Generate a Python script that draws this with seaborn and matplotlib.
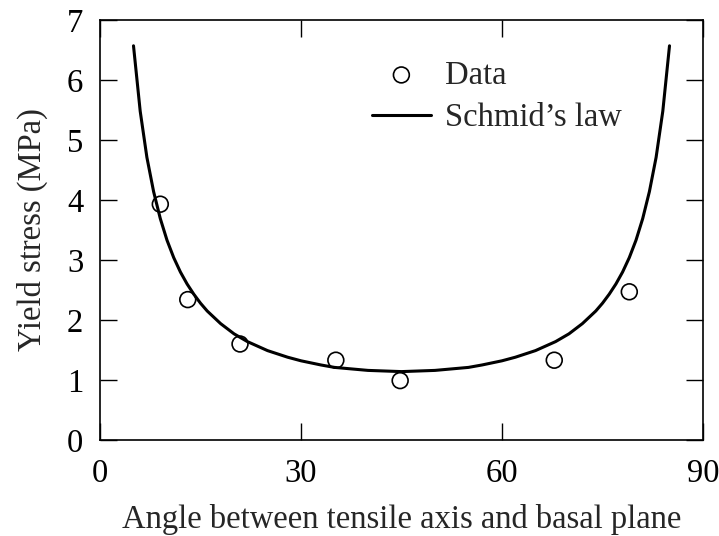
import matplotlib
matplotlib.use("Agg")
import matplotlib.pyplot as plt
import seaborn as sns
import pandas as pd

# Measured data points (angle in degrees, yield stress in MPa)
data_angle = [9.0, 13.1, 20.9, 35.2, 44.8, 67.8, 79.0]
data_stress = [3.93, 2.34, 1.60, 1.33, 0.99, 1.33, 2.47]

# Schmid's law curve
curve_angle = [5, 6, 7, 8, 9, 10, 11, 12, 13, 14, 15, 16, 18, 20, 22, 25, 28, 30, 33, 35, 40, 45,
               50, 55, 57, 60, 62, 65, 68, 70, 72, 74, 75, 76, 77, 78, 79, 80, 81, 82, 83, 84, 85]
curve_stress = [6.57, 5.48, 4.71, 4.14, 3.69, 3.33, 3.04, 2.80, 2.60, 2.43, 2.28, 2.15, 1.94,
                1.77, 1.64, 1.49, 1.38, 1.32, 1.25, 1.21, 1.16, 1.14, 1.16, 1.21, 1.25,
                1.32, 1.38, 1.49, 1.64, 1.77, 1.94, 2.15, 2.28, 2.43, 2.60, 2.80, 3.04,
                3.33, 3.69, 4.14, 4.71, 5.48, 6.57]

x_ticks = [0, 30, 60, 90]
y_ticks = [0, 1, 2, 3, 4, 5, 6, 7]

sns.set_style("ticks")
plt.rcParams['font.family'] = ['Liberation Serif', 'DejaVu Serif']

fig = plt.figure(figsize=(7.19, 5.36), dpi=100)
ax = fig.add_axes([100/719, 1-440/536, (703-100)/719, (440-20)/536])

df_data = pd.DataFrame({"angle": data_angle, "stress": data_stress})
df_curve = pd.DataFrame({"angle": curve_angle, "stress": curve_stress})

sns.scatterplot(data=df_data, x="angle", y="stress", ax=ax, marker="o", s=130,
                facecolor="none", edgecolor="black", linewidth=1.2, label="Data", zorder=3)
sns.lineplot(data=df_curve, x="angle", y="stress", ax=ax, color="black",
             linewidth=2.2, label="Schmid\u2019s law", zorder=2)

ax.set_xlim(0, 90)
ax.set_ylim(0, 7)
ax.set_xticks(x_ticks)
ax.set_yticks(y_ticks)
ax.tick_params(direction="in", length=12, width=1.0, labelsize=23.5, pad=12,
               top=True, right=True, colors="black")
ax.tick_params(axis="x", pad=13)
for sp in ax.spines.values():
    sp.set_linewidth(1.2)
    sp.set_color("black")

ax.set_xlabel("Angle between tensile axis and basal plane", fontsize=23.5, labelpad=11)
ax.set_ylabel("Yield stress (MPa)", fontsize=23.5, labelpad=14)

leg = ax.legend(loc="upper left", bbox_to_anchor=(372/719, 1-60/536),
                bbox_transform=fig.transFigure, frameon=False, fontsize=23.5,
                handlelength=1.8, handletextpad=0.45, labelspacing=0.38,
                borderpad=0, borderaxespad=0)

fig.savefig("out.png", dpi=100)
